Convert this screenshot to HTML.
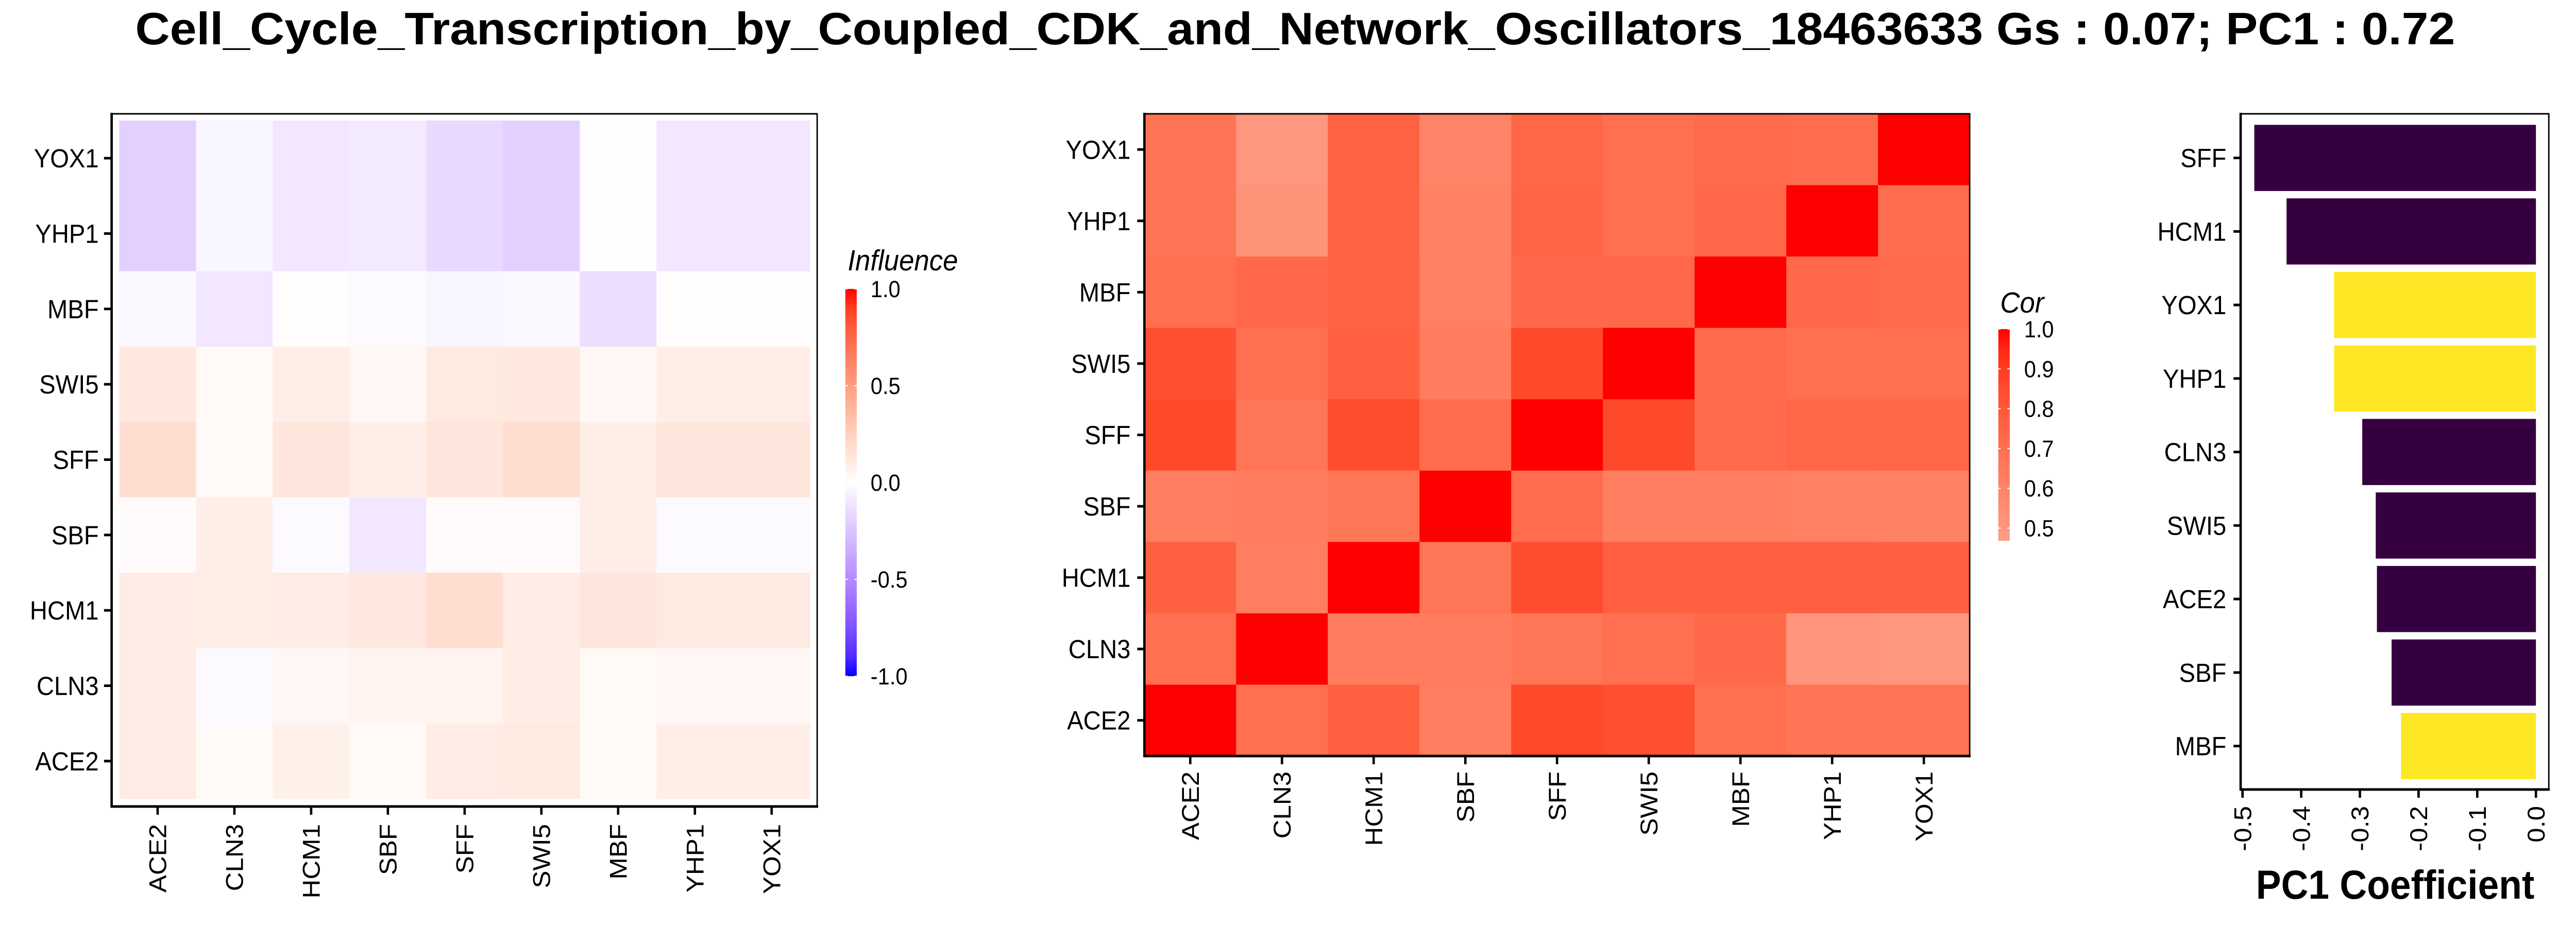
<!DOCTYPE html>
<html><head><meta charset="utf-8"><title>Cell cycle transcription chart</title>
<style>html,body{margin:0;padding:0;background:#fff;overflow:hidden;width:100%;height:100%}svg{display:block;width:100vw;height:100vh}text{font-family:"Liberation Sans",sans-serif}</style></head>
<body>
<svg id="root" xmlns="http://www.w3.org/2000/svg" viewBox="0 0 5400 1800" preserveAspectRatio="none">
<rect width="5400" height="1800" fill="#fff"/>
<text x="2715" y="86" text-anchor="middle" font-size="88" font-weight="bold" textLength="4863" lengthAdjust="spacingAndGlyphs">Cell_Cycle_Transcription_by_Coupled_CDK_and_Network_Oscillators_18463633 Gs : 0.07; PC1 : 0.72</text>
<g id="p1"></g>
<g id="p2"></g>
<g id="p3"></g>
</svg>
<script>
// ---- data ----
const genesX = ["ACE2","CLN3","HCM1","SBF","SFF","SWI5","MBF","YHP1","YOX1"];
const rowsTop = ["YOX1","YHP1","MBF","SWI5","SFF","SBF","HCM1","CLN3","ACE2"];
const influence = [
 [-0.20,-0.04,-0.10,-0.09,-0.16,-0.20,-0.01,-0.10,-0.10],
 [-0.20,-0.04,-0.10,-0.09,-0.16,-0.20,-0.01,-0.10,-0.10],
 [-0.03,-0.10,0.01,-0.02,-0.04,-0.03,-0.14,0.01,0.01],
 [0.12,0.03,0.09,0.04,0.11,0.12,0.04,0.09,0.09],
 [0.18,0.03,0.13,0.09,0.13,0.18,0.09,0.13,0.13],
 [0.02,0.09,-0.02,-0.10,0.02,0.02,0.09,-0.02,-0.02],
 [0.10,0.09,0.10,0.12,0.18,0.10,0.13,0.11,0.11],
 [0.10,-0.02,0.04,0.06,0.06,0.10,0.03,0.04,0.04],
 [0.10,0.03,0.08,0.03,0.10,0.11,0.03,0.09,0.09]
];
const influenceTicks = [1.0,0.5,0.0,-0.5,-1.0];
const influenceTickLabels = ["1.0","0.5","0.0","-0.5","-1.0"];
const cor = [
 [0.68,0.50,0.76,0.60,0.74,0.70,0.72,0.71,1.00],
 [0.68,0.52,0.76,0.61,0.75,0.70,0.73,1.00,0.71],
 [0.70,0.73,0.76,0.62,0.73,0.73,1.00,0.73,0.72],
 [0.84,0.70,0.77,0.64,0.86,1.00,0.72,0.70,0.70],
 [0.86,0.67,0.85,0.71,1.00,0.86,0.72,0.74,0.74],
 [0.63,0.64,0.67,1.00,0.71,0.63,0.63,0.62,0.61],
 [0.77,0.63,1.00,0.67,0.85,0.77,0.77,0.77,0.77],
 [0.70,1.00,0.64,0.64,0.67,0.70,0.73,0.51,0.50],
 [1.00,0.70,0.77,0.63,0.86,0.84,0.70,0.68,0.68]
];
const corTicks = [1.0,0.9,0.8,0.7,0.6,0.5];
const corTickLabels = ["1.0","0.9","0.8","0.7","0.6","0.5"];
const pcGenes = ["SFF","HCM1","YOX1","YHP1","CLN3","SWI5","ACE2","SBF","MBF"];
const pcValues = [-0.480,-0.425,-0.344,-0.344,-0.296,-0.273,-0.271,-0.246,-0.230];
const pcGroup = [0,0,1,1,0,0,0,0,1];
const pcTicks = [-0.5,-0.4,-0.3,-0.2,-0.1,0.0];
const pcTickLabels = ["-0.5","-0.4","-0.3","-0.2","-0.1","0.0"];

// ---- helpers ----
const NS="http://www.w3.org/2000/svg";
function mk(tag,attrs,parent,txt){const e=document.createElementNS(NS,tag);for(const k in attrs)e.setAttribute(k,attrs[k]);if(txt!==undefined)e.textContent=txt;parent.appendChild(e);return e;}
function toLin(c){c/=255;return c<=0.04045?c/12.92:Math.pow((c+0.055)/1.055,2.4);}
function fromLin(c){c=c<=0.0031308?12.92*c:1.055*Math.pow(c,1/2.4)-0.055;return Math.max(0,Math.min(255,Math.round(c*255)));}
function rgb2lab(r,g,b){r=toLin(r);g=toLin(g);b=toLin(b);let x=(r*0.4124+g*0.3576+b*0.1805)/0.95047,y=r*0.2126+g*0.7152+b*0.0722,z=(r*0.0193+g*0.1192+b*0.9505)/1.08883;const f=t=>t>0.008856?Math.cbrt(t):7.787*t+16/116;x=f(x);y=f(y);z=f(z);return[116*y-16,500*(x-y),200*(y-z)];}
function lab2rgb(L,a,bb){let y=(L+16)/116,x=a/500+y,z=y-bb/200;const fi=t=>t*t*t>0.008856?t*t*t:(t-16/116)/7.787;x=fi(x)*0.95047;y=fi(y);z=fi(z)*1.08883;const r=x*3.2406+y*-1.5372+z*-0.4986,g=x*-0.9689+y*1.8758+z*0.0415,b=x*0.0557+y*-0.2040+z*1.0570;return"rgb("+fromLin(r)+","+fromLin(g)+","+fromLin(b)+")";}
function mixLab(c1,c2,t){const A=rgb2lab(...c1),B=rgb2lab(...c2);return lab2rgb(A[0]+(B[0]-A[0])*t,A[1]+(B[1]-A[1])*t,A[2]+(B[2]-A[2])*t);}
function divColor(v){v=Math.max(-1,Math.min(1,v));return v>=0?mixLab([255,255,255],[255,0,0],v):mixLab([255,255,255],[0,0,255],-v);}
const corLo=0.45;
function corColor(v){const t=Math.max(0,Math.min(1,(v-corLo)/(1-corLo)));return mixLab([255,160,138],[255,0,0],t);}
const FS=51;

// ---- panel 1 ----
(function(){
 const g=document.getElementById('p1');
 const x0=250,x1=1698,y0=234,y1=1551;const cw=(x1-x0)/genesX.length,rh=(y1-y0)/rowsTop.length;
 const xc=i=>x0+(i+0.5)*cw, yc=j=>y0+(j+0.5)*rh;
 rowsTop.forEach((r,j)=>genesX.forEach((c,i)=>{
  const e=mk('rect',{x:x0+i*cw,y:y0+j*rh,width:cw+0.5,height:rh+0.5,fill:divColor(influence[j][i])},g);
  
  
 }));
 const b=mk('rect',{x:234,y:221,width:1479,height:1345,fill:'none',stroke:'#000','stroke-width':3},g);
 
 const al=mk('path',{d:'M234 219 V1568 M232 1566 H1715',stroke:'#000','stroke-width':5,fill:'none'},g);
 
 rowsTop.forEach((r,j)=>{
  const t=mk('line',{x1:218,x2:232,y1:yc(j),y2:yc(j),stroke:'#000','stroke-width':5},g);
  
  const l=mk('text',{x:207,y:yc(j)+18,'text-anchor':'end','font-size':FS},g,r);
  
 });
 genesX.forEach((c,i)=>{
  const t=mk('line',{x1:xc(i),x2:xc(i),y1:1568,y2:1582,stroke:'#000','stroke-width':5},g);
  
  const l=mk('text',{x:0,y:0,'text-anchor':'end','font-size':FS,transform:'translate('+(xc(i)+18)+',1600) rotate(-90)'},g,c);
  
 });
 const ly0=561,ly1=1313,lx=1772,lw=24;const ly=v=>ly0+(1-v)/2*(ly1-ly0);
 const defs=mk('defs',{},g);const gr=mk('linearGradient',{id:'gInf',x1:0,y1:0,x2:0,y2:1},defs);
 for(let k=0;k<=20;k++){const v=1-k/10;mk('stop',{offset:(k/20),'stop-color':divColor(v)},gr);}
 const lb=mk('rect',{x:lx,y:ly0,width:lw,height:ly1-ly0,fill:'url(#gInf)'},g);
 
 const lt=mk('text',{x:1777,y:525,'font-size':57,'font-style':'italic'},g,'Influence');
 
 influenceTicks.forEach((v,k)=>{
  const tk=mk('path',{d:'M'+lx+' '+ly(v)+' h5 M'+(lx+lw-5)+' '+ly(v)+' h5',stroke:'#fff','stroke-width':2},g);
  
  const tl=mk('text',{x:1825,y:ly(v)+16,'font-size':45},g,influenceTickLabels[k]);
  
 });
})();

// ---- panel 2 ----
(function(){
 const g=document.getElementById('p2');
 const x0=2399,x1=4129,y0=221,y1=1468;const cw=(x1-x0)/genesX.length,rh=(y1-y0)/rowsTop.length;
 const xc=i=>x0+(i+0.5)*cw, yc=j=>y0+(j+0.5)*rh;
 rowsTop.forEach((r,j)=>genesX.forEach((c,i)=>{
  const e=mk('rect',{x:x0+i*cw,y:y0+j*rh,width:cw+0.5,height:rh+0.5,fill:corColor(cor[j][i])},g);
  
  
 }));
 const b=mk('rect',{x:x0,y:y0,width:x1-x0,height:y1-y0,fill:'none',stroke:'#000','stroke-width':3},g);
 
 const al=mk('path',{d:'M2399 219 V1470 M2397 1468 H4131',stroke:'#000','stroke-width':5,fill:'none'},g);
 
 rowsTop.forEach((r,j)=>{
  const t=mk('line',{x1:2384,x2:2397,y1:yc(j),y2:yc(j),stroke:'#000','stroke-width':5},g);
  
  const l=mk('text',{x:2370,y:yc(j)+18,'text-anchor':'end','font-size':FS},g,r);
  
 });
 genesX.forEach((c,i)=>{
  const t=mk('line',{x1:xc(i),x2:xc(i),y1:1470,y2:1484,stroke:'#000','stroke-width':5},g);
  
  const l=mk('text',{x:0,y:0,'text-anchor':'end','font-size':FS,transform:'translate('+(xc(i)+18)+',1498) rotate(-90)'},g,c);
  
 });
 const ly0=639,lx=4189,lw=24,per=773;const ly=v=>ly0+(1-v)*per;const lyB=ly(0.468);
 const defs=mk('defs',{},g);const gr=mk('linearGradient',{id:'gCor',x1:0,y1:0,x2:0,y2:1},defs);
 for(let k=0;k<=10;k++){const v=1-k/10*(1-0.468);mk('stop',{offset:k/10,'stop-color':corColor(v)},gr);}
 const lb=mk('rect',{x:lx,y:ly0,width:lw,height:lyB-ly0,fill:'url(#gCor)'},g);
 
 const lt=mk('text',{x:4193,y:607,'font-size':57,'font-style':'italic'},g,'Cor');
 
 corTicks.forEach((v,k)=>{
  const tk=mk('path',{d:'M'+lx+' '+ly(v)+' h5 M'+(lx+lw-5)+' '+ly(v)+' h5',stroke:'#fff','stroke-width':2},g);
  
  const tl=mk('text',{x:4243,y:ly(v)+16,'font-size':45},g,corTickLabels[k]);
  
 });
})();

// ---- panel 3 ----
(function(){
 const g=document.getElementById('p3');
 const X0=5316,perUnit=1230;const xs=v=>X0+v*perUnit;
 const top=221,step=142.75;const yc=j=>top+0.6*step+j*step;const bh=0.9*step;
 pcGenes.forEach((gname,j)=>{
  const v=pcValues[j];const xa=Math.min(xs(v),xs(0)),xb=Math.max(xs(v),xs(0));
  const r=mk('rect',{x:xa,y:yc(j)-bh/2,width:xb-xa,height:bh,fill:pcGroup[j]?'#FDE725':'#360040'},g);
  
 });
 const b=mk('rect',{x:4697,y:221,width:646,height:1312,fill:'none',stroke:'#000','stroke-width':3},g);
 
 const al=mk('path',{d:'M4697 219 V1535 M4695 1533 H5345',stroke:'#000','stroke-width':5,fill:'none'},g);
 
 pcGenes.forEach((gname,j)=>{
  const t=mk('line',{x1:4682,x2:4695,y1:yc(j),y2:yc(j),stroke:'#000','stroke-width':5},g);
  
  const l=mk('text',{x:4667,y:yc(j)+18,'text-anchor':'end','font-size':FS},g,gname);
  
 });
 pcTicks.forEach((v,k)=>{
  const t=mk('line',{x1:xs(v),x2:xs(v),y1:1535,y2:1549,stroke:'#000','stroke-width':5},g);
  
  const l=mk('text',{x:0,y:0,'text-anchor':'end','font-size':FS,transform:'translate('+(xs(v)+18)+',1565) rotate(-90)'},g,pcTickLabels[k]);
  
 });
 const tt=mk('text',{x:5021,y:1745,'text-anchor':'middle','font-size':79,'font-weight':'bold'},g,'PC1 Coefficient');
 
})();
</script>
</body></html>
